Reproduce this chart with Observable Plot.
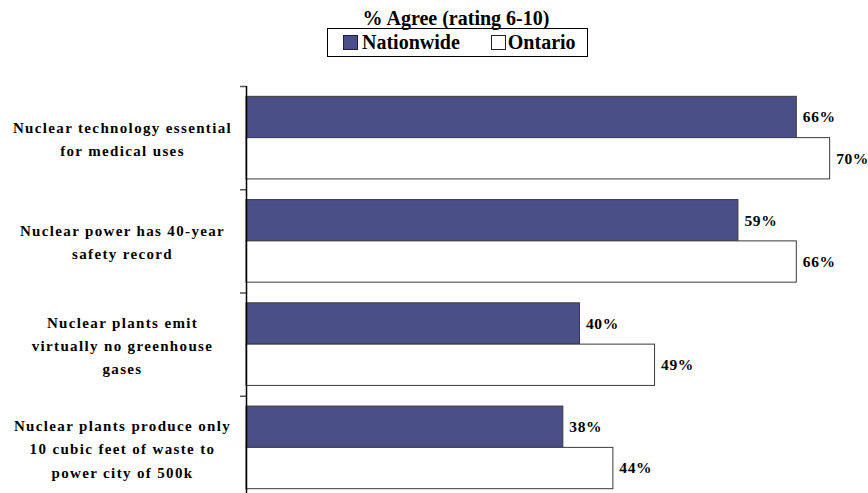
<!DOCTYPE html>
<html>
<head>
<meta charset="utf-8">
<script src="https://cdn.jsdelivr.net/npm/d3@7"></script>
<script src="https://cdn.jsdelivr.net/npm/@observablehq/plot@0.6"></script>
<style>
  html, body { margin: 0; padding: 0; background: #fff; overflow: hidden; }
  body { width: 868px; height: 493px; font-family: "Liberation Serif", "Times New Roman", serif; }
  #header { position: relative; height: 62px; width: 868px; }
  #title { position: absolute; top: 7px; left: 44px; width: 824px; text-align: center;
           font-weight: bold; font-size: 20px; line-height: 22px; color: #000; }
  #legend { position: absolute; top: 28px; left: 327px; width: 259px; height: 27px;
            border: 1px solid #000; display: flex; align-items: center; box-sizing: content-box;
            font-weight: bold; font-size: 20px; color: #000; }
  .sw { display: inline-block; width: 13px; height: 13px; border: 1px solid #222; }
  .item { display: flex; align-items: center; }
  #chart svg .labs text { letter-spacing: 1.35px; }
  #chart svg .vals text { letter-spacing: 0.6px; }
</style>
</head>
<body>
<div id="header">
  <div id="title">% Agree (rating 6-10)</div>
  <div id="legend"></div>
</div>
<div id="chart"></div>
<script>
const categories = [
  "Nuclear technology essential\nfor medical uses",
  "Nuclear power has 40-year\nsafety record",
  "Nuclear plants emit\nvirtually no greenhouse\ngases",
  "Nuclear plants produce only\n10 cubic feet of waste to\npower city of 500k"
];
const series = ["Nationwide", "Ontario"];
const seriesColors = ["#4A4F88", "#FFFFFF"];
const nationwide = [66, 59, 40, 38];
const ontario = [70, 66, 49, 44];

// legend
const legend = document.getElementById("legend");
series.forEach((s, i) => {
  const item = document.createElement("span");
  item.className = "item";
  item.style.marginLeft = i === 0 ? "15px" : "31px";
  const sw = document.createElement("span");
  sw.className = "sw";
  sw.style.background = seriesColors[i];
  const t = document.createElement("span");
  t.textContent = s;
  t.style.marginLeft = i === 0 ? "4px" : "2px";
  item.appendChild(sw);
  item.appendChild(t);
  legend.appendChild(item);
});

const rows = [];
categories.forEach((c, i) => {
  rows.push({cat: i, series: series[0], value: nationwide[i]});
  rows.push({cat: i, series: series[1], value: ontario[i]});
});
const off = s => (s === series[0] ? 0.1 : 0.5);

const font = "'Liberation Serif', 'Times New Roman', serif";
const chart = Plot.plot({
  width: 868,
  height: 447,
  marginTop: 24,
  marginBottom: 10,
  marginLeft: 246,
  marginRight: 5,
  style: {fontFamily: font, fontSize: "15px", background: "white", color: "#000"},
  x: {domain: [0, 74], axis: null},
  y: {domain: [0, categories.length], reverse: true, axis: null},
  color: {domain: series, range: seriesColors},
  marks: [
    Plot.rectX(rows, {
      x1: 0, x2: "value",
      y1: d => d.cat + off(d.series),
      y2: d => d.cat + off(d.series) + 0.4,
      fill: "series", stroke: "#3a3a3a", strokeWidth: 1
    }),
    Plot.text(rows, {
      x: "value",
      y: d => d.cat + off(d.series) + 0.2,
      text: d => d.value + "%",
      textAnchor: "start", dx: 6, fontWeight: "bold", fontSize: 15.5, fill: "#000",
      className: "vals"
    }),
    Plot.axisY(d3.range(categories.length + 1), {
      tickSize: 6, tickFormat: () => "", stroke: "#555", strokeWidth: 1.5
    }),
    Plot.axisY(d3.range(categories.length).map(i => i + 0.5), {
      tickSize: 0, tickFormat: v => categories[Math.floor(v)],
      textAnchor: "middle", dx: -115, dy: -1, lineHeight: 1.55,
      fontWeight: "bold", fontSize: 15, fill: "#000", className: "labs"
    }),
    Plot.ruleX([0], {stroke: "#000", strokeWidth: 1.5})
  ]
});
document.getElementById("chart").appendChild(chart);
</script>
</body>
</html>
